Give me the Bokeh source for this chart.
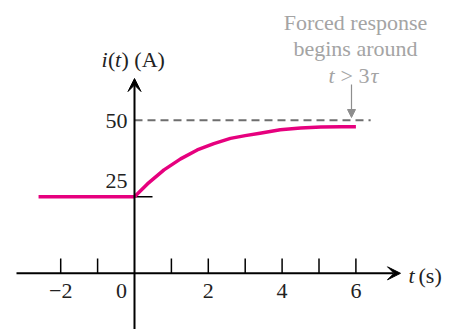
from bokeh.plotting import figure
from bokeh.models import Arrow, VeeHead, NormalHead, Label, Range1d
from bokeh.embed import file_html
from bokeh.resources import INLINE
from bokeh.core.properties import value

# Current i(t) in A: constant before the switch, then rising towards the final value
t_before = [-2.6, 0.0]
i_before = [25.0, 25.0]
t_after = [0, 0.35, 0.8, 1.25, 1.7, 2.15, 2.6, 3.0, 3.4, 3.95, 4.5, 5.05, 5.6, 6.0]
i_after = [25, 29.2, 33.8, 37.4, 40.3, 42.4, 44.1, 45.0, 45.8, 46.9, 47.5, 47.8, 47.9, 47.9]

final_value = 50
final_span = [0, 6.4]

x_tick_pos = [-2, -1, 1, 2, 3, 4, 5, 6]
x_label_pos = [-2, 2, 4, 6]
x_labels = ["\u22122", "2", "4", "6"]

W, H = 450, 329
X0, XS = 134.0, 36.9      # pixel of t = 0, pixels per second
Y0, YS = 272.8, 3.06      # pixel of i = 0, pixels per ampere


def px(x):
    return (x - X0) / XS


def py(y):
    return (Y0 - y) / YS


FONT_NAME = "'Liberation Serif'"
FONT = value(FONT_NAME)
FS = "22px"
ANN = "#a4a4a4"

p = figure(width=W, height=H, output_backend="svg", toolbar_location=None,
           x_range=Range1d(px(0), px(W)), y_range=Range1d(py(H), py(0)),
           min_border=0, min_border_left=0, min_border_right=0,
           min_border_top=0, min_border_bottom=0)
p.axis.visible = False
p.grid.visible = False
p.outline_line_color = None
p.background_fill_color = "white"
p.border_fill_color = "white"

# axes with arrow heads
p.add_layout(Arrow(x_start=px(16), y_start=0, x_end=px(400), y_end=0,
                   line_width=2, line_color="black",
                   end=VeeHead(size=13, fill_color="black", line_color="black", line_width=1)))
p.add_layout(Arrow(x_start=0, y_start=py(H + 10), x_end=0, y_end=py(78),
                   line_width=2, line_color="black",
                   end=VeeHead(size=13, fill_color="black", line_color="black", line_width=1)))

# tick marks
p.segment(x0=x_tick_pos, y0=0, x1=x_tick_pos, y1=py(258), line_color="black", line_width=1.5)
p.segment(x0=[0], y0=[25], x1=[px(152)], y1=[25], line_color="black", line_width=1.5)

# final value reference line
p.line(final_span, [final_value, final_value], line_color="#6e6e6e", line_width=2,
       line_dash="8 5")

# response curve
p.line(t_before, i_before, line_color="#e6007e", line_width=3.5, line_join="round")
p.line(t_after, i_after, line_color="#e6007e", line_width=3.5, line_join="round")

# tick labels
p.text(x=x_label_pos, y=py(290.5), text=x_labels, text_font=FONT, text_font_size=FS,
       text_align="center", text_baseline="middle", text_color="#222222")
p.text(x=[0], y=[py(290.5)], text=["0"], x_offset=-13, text_font=FONT, text_font_size=FS,
       text_align="center", text_baseline="middle", text_color="#222222")
p.text(x=[0], y=[50], text=["50"], x_offset=-7, y_offset=1, text_font=FONT,
       text_font_size=FS, text_align="right", text_baseline="middle", text_color="#222222")
p.text(x=[0], y=[25], text=["25"], x_offset=-7, y_offset=-16, text_font=FONT,
       text_font_size=FS, text_align="right", text_baseline="middle", text_color="#222222")


def label(x, y, text, style="normal", color="#222222", align="left"):
    p.add_layout(Label(x=x, y=y, text=text, text_font=FONT_NAME, text_font_size=FS,
                       text_font_style=style, text_color=color, text_align=align,
                       text_baseline="middle"))


# axis titles
label(px(101), py(59), "i", "italic")
label(px(107.5), py(59), "(")
label(px(114.5), py(59), "t", "italic")
label(px(121), py(59), ") (A)")
label(px(408), py(275), "t", "italic")
label(px(418), py(275), "(s)")

# note on the forced response
label(px(355), py(22), "Forced response", color=ANN, align="center")
label(px(355), py(48), "begins around", color=ANN, align="center")
label(px(328), py(75), "t", "italic", color=ANN)
label(px(340), py(75), "> 3", color=ANN)
label(px(370), py(75), "\u03c4", "italic", color=ANN)
p.add_layout(Arrow(x_start=px(351), y_start=py(84), x_end=px(351), y_end=py(117),
                   line_width=1.2, line_color="#8e8e8e",
                   end=NormalHead(size=8, fill_color="#8e8e8e", line_color="#8e8e8e",
                                  line_width=1)))

open("out.html", "w").write(file_html(p, INLINE))
